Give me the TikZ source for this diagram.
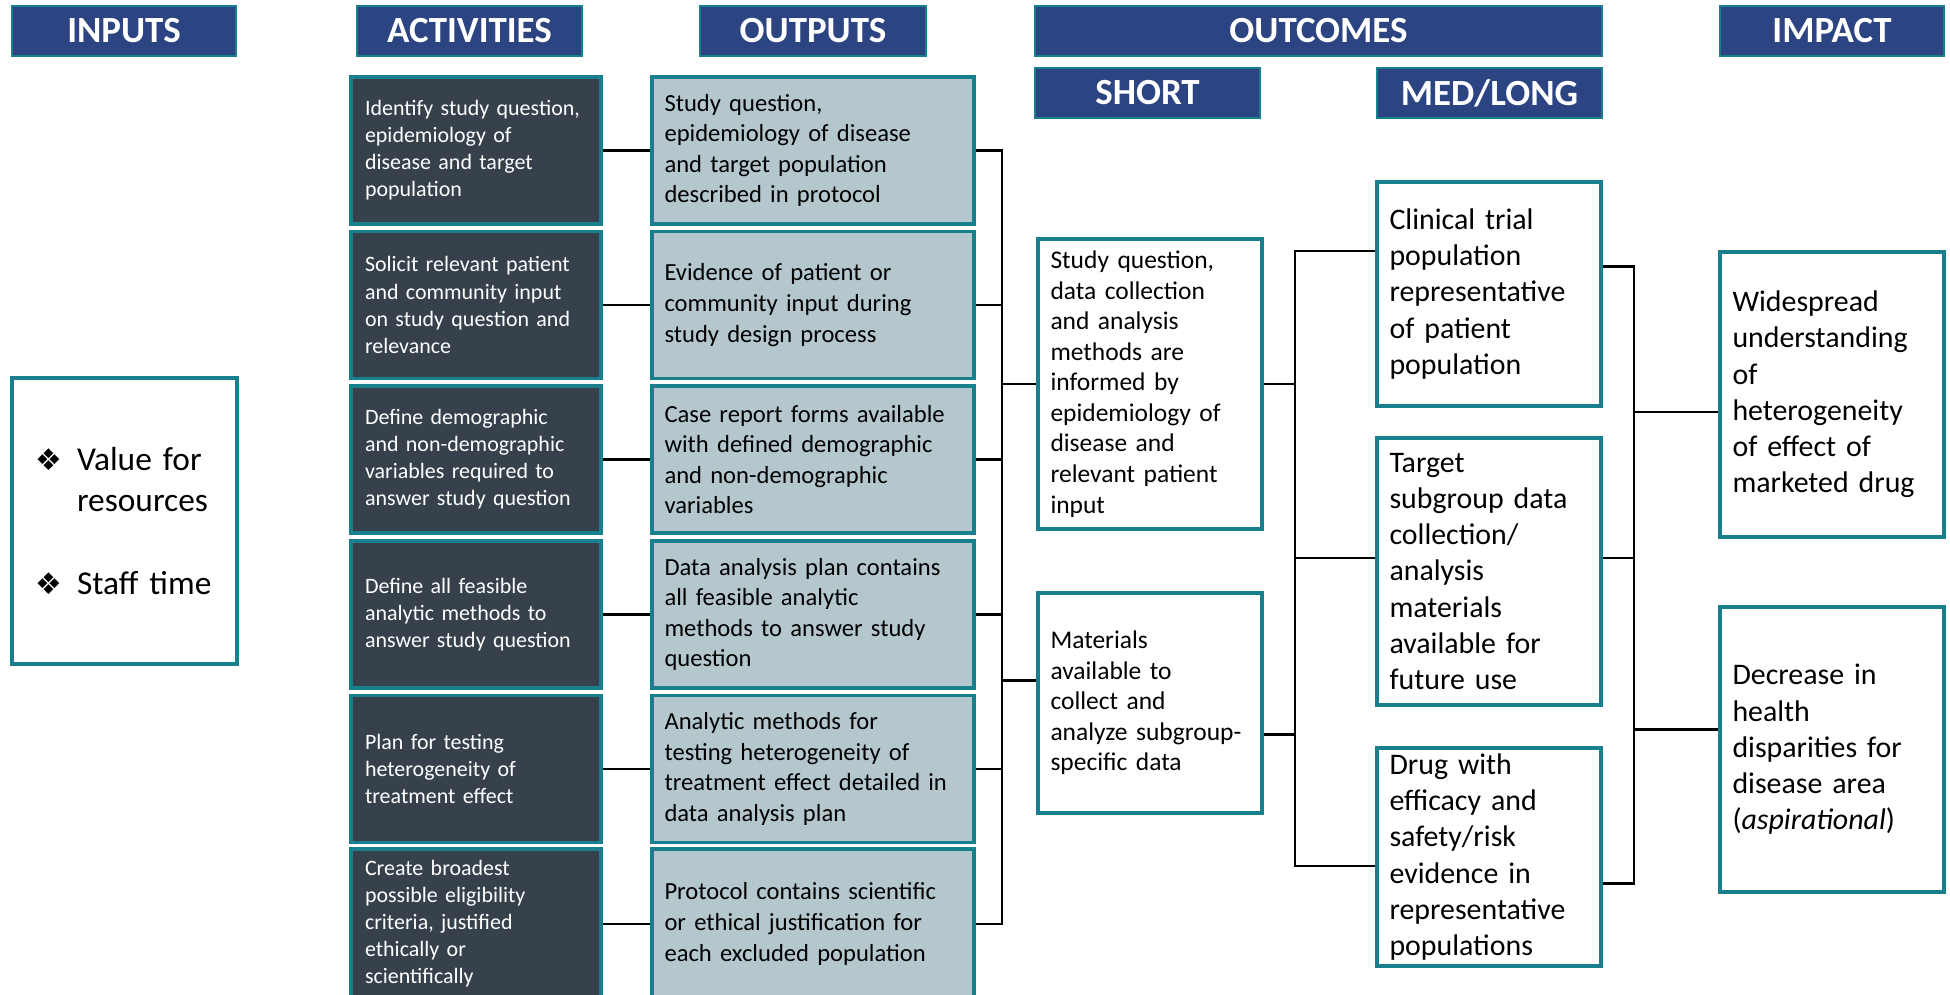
\documentclass[tikz,border=0pt]{standalone}
\usepackage{fontspec}
\setmainfont{Carlito}
\newfontfamily\dejavu{DejaVu Sans}
\usetikzlibrary{calc}

\definecolor{hdrblue}{RGB}{44,68,130}
\definecolor{boxteal}{RGB}{23,128,140}
\definecolor{actslate}{RGB}{54,65,76}
\definecolor{outgrey}{RGB}{180,199,205}

\newcommand{\diabullet}{\makebox[0.84cm][l]{\dejavu\fontsize{17}{17}\selectfont ❖}}

\tikzset{
    header/.style={draw=boxteal, fill=hdrblue, line width=1.5pt, text=white,
        font=\bfseries\fontsize{21}{25}\selectfont, inner sep=0, minimum height=1cm},
    actbox/.style={draw=boxteal, fill=actslate, line width=2.1pt, text=white,
        font=\fontsize{12.5}{15.4}\selectfont, align=left, inner xsep=0.28cm,
        text width=4.44cm, minimum height=2.94cm},
    outbox/.style={draw=boxteal, fill=outgrey, line width=2.1pt, text=black,
        font=\fontsize{14}{17.4}\selectfont, align=left, inner xsep=0.25cm,
        text width=5.94cm, minimum height=2.94cm},
    resbox/.style={draw=boxteal, fill=white, line width=2.1pt, align=left,
        inner xsep=0.25cm, text width=3.98cm},
    shortbox/.style={resbox, font=\fontsize{14.5}{17.4}\selectfont},
    longbox/.style={resbox, font=\fontsize{17}{20.6}\selectfont},
    link/.style={line width=1.4pt}
}

\begin{document}
\begin{tikzpicture}

    \useasboundingbox (0,0) rectangle (39,-19.9);

    % Headers
    \node[header, minimum width=4.48cm] (hInputs) at (2.48,-0.62) {INPUTS};
    \node[header, minimum width=4.5cm] (hAct) at (9.39,-0.62) {ACTIVITIES};
    \node[header, minimum width=4.52cm] (hOut) at (16.26,-0.62) {OUTPUTS};
    \node[header, minimum width=11.34cm] (hOutcomes) at (26.37,-0.62) {OUTCOMES};
    \node[header, minimum width=4.48cm] (hImpact) at (36.64,-0.62) {IMPACT};
    \node[header, minimum width=4.5cm] (hShort) at (22.95,-1.86) {SHORT};
    \node[header, minimum width=4.5cm] (hLong) at (29.79,-1.86) {MED/LONG};

    % Inputs
    \node[resbox, text width=3.58cm, inner xsep=0.46cm, minimum height=5.72cm,
    font=\fontsize{19}{23.4}\selectfont] (inputs) at (2.49,-10.42)
        {\diabullet Value for\\ \hspace*{0.84cm}resources\\[23.4pt]
        \diabullet Staff time};

    % Activities
    \node[actbox] (act1) at (9.52,-3.01) {Identify study question,\\ epidemiology of\\
        disease and target\\ population};
    \node[actbox] (act2) at (9.52,-6.10) {Solicit relevant patient\\ and community input\\
        on study question and\\ relevance};
    \node[actbox] (act3) at (9.52,-9.19) {Define demographic\\ and non-demographic\\
        variables required to\\ answer study question};
    \node[actbox] (act4) at (9.52,-12.29) {Define all feasible\\ analytic methods to\\
        answer study question};
    \node[actbox] (act5) at (9.52,-15.38) {Plan for testing\\ heterogeneity of\\
        treatment effect};
    \node[actbox, minimum height=3.0cm] (act6) at (9.52,-18.48) {Create broadest\\
        possible eligibility\\ criteria, justified\\ ethically or\\ scientifically};

    % Outputs
    \node[outbox] (out1) at (16.26,-3.01) {Study question,\\ epidemiology of disease\\
        and target population\\ described in protocol};
    \node[outbox] (out2) at (16.26,-6.10) {Evidence of patient or\\ community input during\\
        study design process};
    \node[outbox] (out3) at (16.26,-9.19) {Case report forms available\\
        with defined demographic\\ and non-demographic\\ variables};
    \node[outbox] (out4) at (16.26,-12.29) {Data analysis plan contains\\
        all feasible analytic\\ methods to answer study\\ question};
    \node[outbox] (out5) at (16.26,-15.38) {Analytic methods for\\ testing heterogeneity of\\
        treatment effect detailed in\\ data analysis plan};
    \node[outbox, minimum height=3.0cm] (out6) at (16.26,-18.48) {Protocol contains scientific\\
        or ethical justification for\\ each excluded population};

    % Short outcomes
    \node[shortbox, minimum height=5.8cm] (short1) at (23.0,-7.68) {Study question,\\
        data collection\\ and analysis\\ methods are\\ informed by\\ epidemiology of\\
        disease and\\ relevant patient\\ input};
    \node[shortbox, minimum height=4.4cm] (short2) at (23.0,-14.06) {Materials\\
        available to\\ collect and\\ analyze subgroup-\\ specific data};

    % Med/long outcomes
    \node[longbox, minimum height=4.48cm] (long1) at (29.78,-5.88) {Clinical trial\\
        population\\ representative\\ of patient\\ population};
    \node[longbox, minimum height=5.34cm] (long2) at (29.78,-11.43) {Target\\
        subgroup data\\ collection/\\ analysis\\ materials\\ available for\\ future use};
    \node[longbox, minimum height=4.36cm, inner ysep=0pt] (long3) at (29.78,-17.14) {Drug with\\
        efficacy and\\ safety/risk\\ evidence in\\ representative\\ populations};

    % Impact
    \node[longbox, minimum height=5.7cm] (impact1) at (36.64,-7.89) {Widespread\\
        understanding\\ of\\ heterogeneity\\ of effect of\\ marketed drug};
    \node[longbox, minimum height=5.7cm] (impact2) at (36.64,-14.99) {Decrease in\\
        health\\ disparities for\\ disease area\\ (\textit{aspirational})};

    % Bus positions and ports
    \coordinate (busA) at (20.04,0);
    \coordinate (busB) at (25.9,0);
    \coordinate (busC) at (32.68,0);
    \coordinate (s2in) at ($(short2.north west)!0.4!(short2.south west)$);
    \coordinate (s2out) at ($(short2.north east)!0.64!(short2.south east)$);
    \coordinate (m1in) at ($(long1.north west)!0.31!(long1.south west)$);
    \coordinate (m2in) at ($(long2.north west)!0.45!(long2.south west)$);
    \coordinate (m3in) at ($(long3.north west)!0.54!(long3.south west)$);
    \coordinate (m1out) at ($(long1.north east)!0.38!(long1.south east)$);
    \coordinate (m2out) at ($(long2.north east)!0.45!(long2.south east)$);
    \coordinate (m3out) at ($(long3.north east)!0.62!(long3.south east)$);
    \coordinate (i1in) at ($(impact1.north west)!0.56!(impact1.south west)$);
    \coordinate (i2in) at ($(impact2.north west)!0.43!(impact2.south west)$);

    % Lines
    \foreach \i in {1,...,6}
        \draw[link] (act\i) -- (out\i);

    \draw[link] (out1.east) -- (out1.east -| busA) -- (out6.east -| busA) -- (out6.east);
    \foreach \i in {2,...,5}
        \draw[link] (out\i.east) -- (out\i.east -| busA);
    \draw[link] (short1.west -| busA) -- (short1.west);
    \draw[link] (s2in -| busA) -- (s2in);

    \draw[link] (short1.east) -- (short1.east -| busB);
    \draw[link] (s2out) -- (s2out -| busB);
    \draw[link] (m1in) -- (m1in -| busB) -- (m3in -| busB) -- (m3in);
    \draw[link] (m2in -| busB) -- (m2in);

    \draw[link] (m1out) -- (m1out -| busC) -- (m3out -| busC) -- (m3out);
    \draw[link] (m2out) -- (m2out -| busC);
    \foreach \p in {i1in, i2in}
        \draw[link] (\p -| busC) -- (\p);

\end{tikzpicture}
\end{document}
